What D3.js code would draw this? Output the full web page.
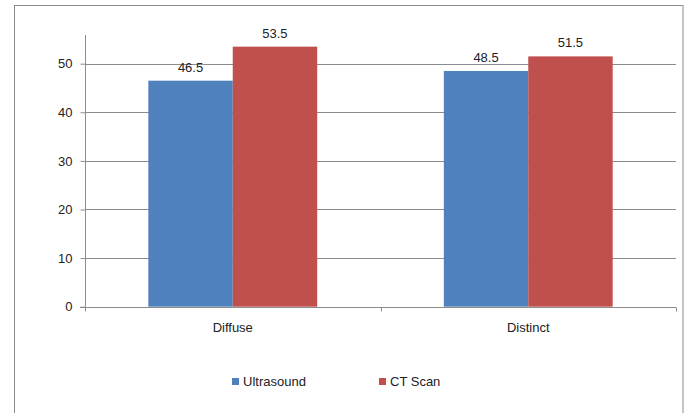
<!DOCTYPE html>
<html>
<head>
<meta charset="utf-8">
<style>
  body { margin: 0; background: #fff; }
  svg text { font-family: "Liberation Sans", Arial, sans-serif; fill: #222; }
</style>
</head>
<body>
<div id="chart"></div>
<script src="https://d3js.org/d3.v7.min.js"></script>
<script>
  // Chart data
  const categories = ['Diffuse', 'Distinct'];
  const seriesNames = ['Ultrasound', 'CT Scan'];
  const ultrasound = [46.5, 48.5];
  const ctScan = [53.5, 51.5];
  const yTicks = [0, 10, 20, 30, 40, 50];
  const colors = ['#4F81BD', '#C0504D'];

  const width = 689;
  const height = 413;
  const plot = { left: 85, right: 676, top: 35, bottom: 306.7 };

  const svg = d3.select('#chart')
    .append('svg')
    .attr('width', width)
    .attr('height', height);

  // Outer chart border (bottom edge falls outside the picture)
  svg.append('rect')
    .attr('x', 14.5)
    .attr('y', 5.5)
    .attr('width', 683 - 14.5)
    .attr('height', 420)
    .attr('fill', 'none')
    .attr('stroke', '#8a8a8a')
    .attr('stroke-width', 1);

  const x0 = d3.scaleBand()
    .domain(categories)
    .range([plot.left, plot.right])
    .paddingInner(0)
    .paddingOuter(0);

  // Excel gap width 150%: two bars of width w, gap 1.5w per category
  const barW = x0.bandwidth() / 3.5;
  const x1 = d3.scaleBand()
    .domain(seriesNames)
    .range([x0.bandwidth() / 2 - barW, x0.bandwidth() / 2 + barW]);

  const y = d3.scaleLinear()
    .domain([0, 55.9])
    .range([plot.bottom, plot.top]);

  // Gridlines
  svg.append('g')
    .selectAll('line')
    .data(yTicks.filter(d => d > 0))
    .enter()
    .append('line')
    .attr('x1', plot.left)
    .attr('x2', plot.right)
    .attr('y1', d => Math.round(y(d)) + 0.5)
    .attr('y2', d => Math.round(y(d)) + 0.5)
    .attr('stroke', '#8c8c8c')
    .attr('stroke-width', 1);

  // Bars
  const table = categories.map((c, i) => ({ cat: c, values: [ultrasound[i], ctScan[i]] }));

  const groups = svg.append('g')
    .selectAll('g')
    .data(table)
    .enter()
    .append('g')
    .attr('transform', d => `translate(${x0(d.cat)},0)`);

  groups.selectAll('rect')
    .data(d => d.values.map((v, j) => ({ name: seriesNames[j], value: v, j })))
    .enter()
    .append('rect')
    .attr('x', d => x1(d.name))
    .attr('y', d => y(d.value))
    .attr('width', x1.bandwidth())
    .attr('height', d => y(0) - y(d.value))
    .attr('fill', d => colors[d.j]);

  groups.selectAll('text')
    .data(d => d.values.map((v, j) => ({ name: seriesNames[j], value: v })))
    .enter()
    .append('text')
    .attr('x', d => x1(d.name) + x1.bandwidth() / 2)
    .attr('y', d => y(d.value) - 9)
    .attr('text-anchor', 'middle')
    .attr('font-size', 13)
    .text(d => d.value.toFixed(1));

  // Y axis
  const yAxis = svg.append('g')
    .attr('transform', `translate(${plot.left + 0.5},0)`)
    .call(d3.axisLeft(y).tickValues(yTicks).tickSize(5).tickPadding(8).tickFormat(d3.format('d')));
  yAxis.select('.domain').attr('stroke', '#8c8c8c').attr('d', `M-0,${plot.top}V${plot.bottom}`);
  yAxis.selectAll('.tick line').attr('stroke', '#8c8c8c');
  yAxis.selectAll('.tick text').attr('font-size', 13).attr('fill', '#222');

  // X axis
  const xAxisG = svg.append('g')
    .attr('transform', `translate(0,${Math.round(plot.bottom) + 0.5})`);
  xAxisG.append('line')
    .attr('x1', plot.left - 5)
    .attr('x2', plot.right)
    .attr('stroke', '#8c8c8c');
  xAxisG.selectAll('line.tk')
    .data([plot.left, ...categories.map(c => x0(c) + x0.bandwidth())])
    .enter()
    .append('line')
    .attr('class', 'tk')
    .attr('x1', d => Math.round(d) + 0.5)
    .attr('x2', d => Math.round(d) + 0.5)
    .attr('y1', 0)
    .attr('y2', 4)
    .attr('stroke', '#8c8c8c');
  xAxisG.selectAll('text')
    .data(categories)
    .enter()
    .append('text')
    .attr('x', d => x0(d) + x0.bandwidth() / 2)
    .attr('y', 24)
    .attr('text-anchor', 'middle')
    .attr('font-size', 13)
    .text(d => d);

  // Legend
  const legendX = [232, 379];
  const legend = svg.append('g')
    .selectAll('g')
    .data(seriesNames)
    .enter()
    .append('g')
    .attr('transform', (d, i) => `translate(${legendX[i]},378)`);
  legend.append('rect')
    .attr('width', 7)
    .attr('height', 7)
    .attr('fill', (d, i) => colors[i]);
  legend.append('text')
    .attr('x', 11)
    .attr('y', 8)
    .attr('font-size', 13)
    .text(d => d);
</script>
</body>
</html>
